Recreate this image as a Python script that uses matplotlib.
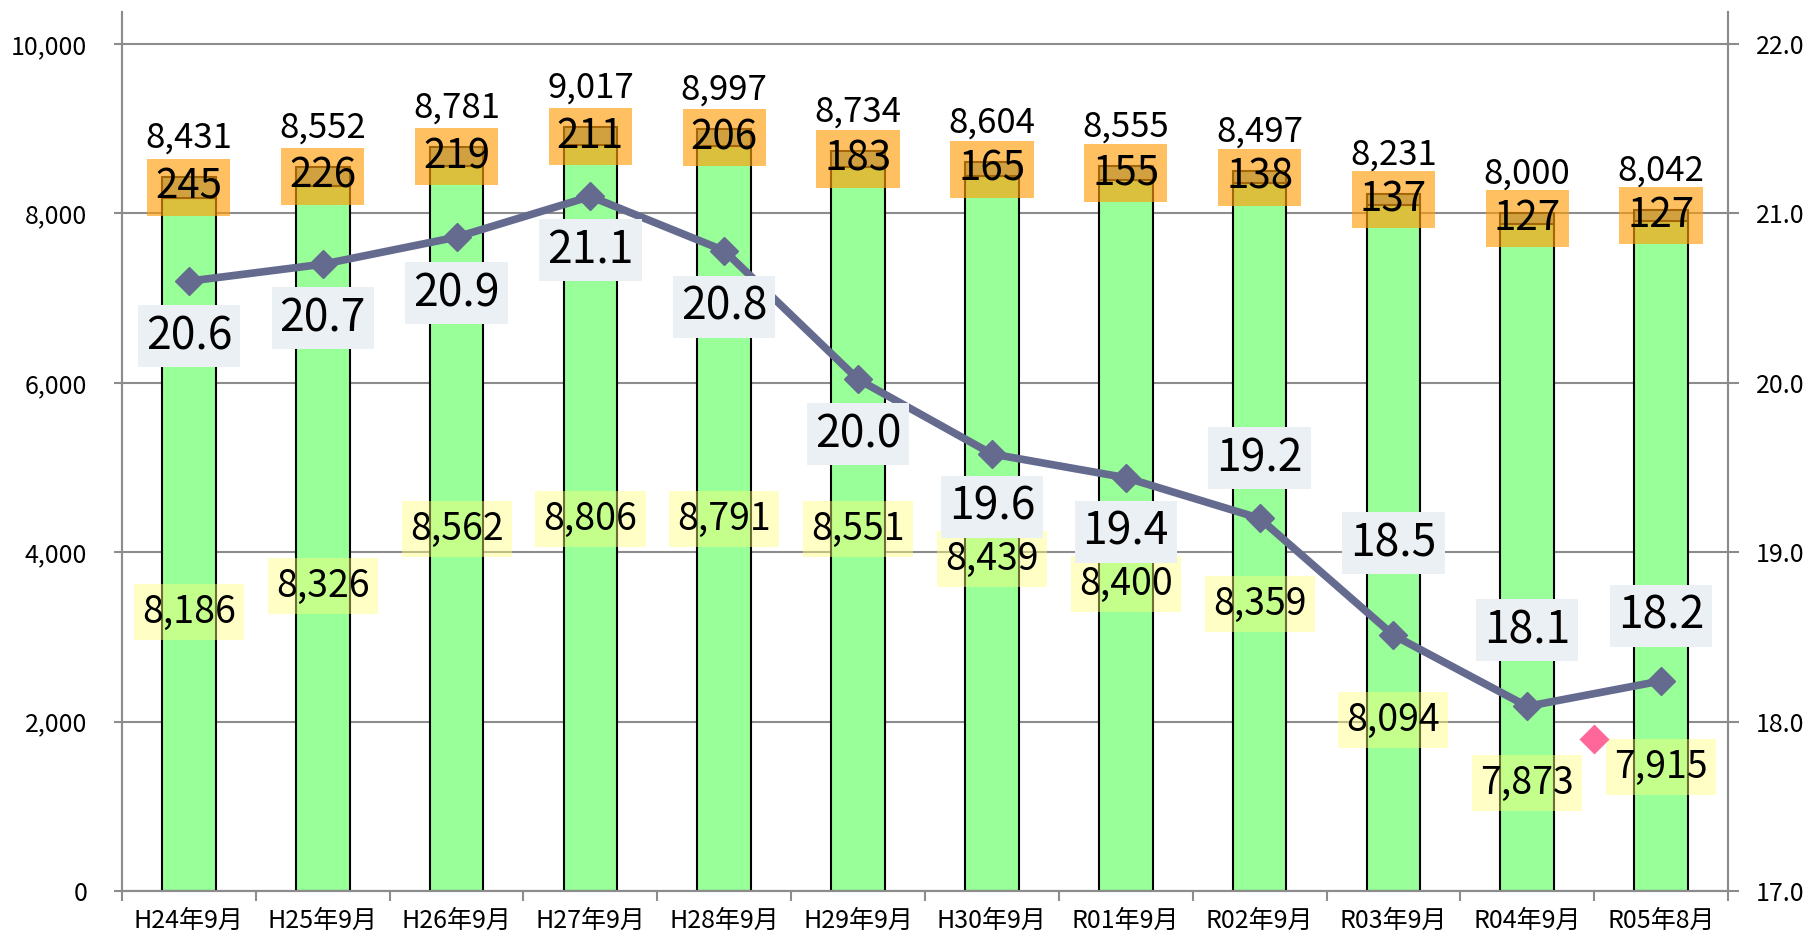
import matplotlib
matplotlib.use('Agg')
import matplotlib.pyplot as plt
from matplotlib.ticker import FixedLocator, FuncFormatter

plt.rcParams['font.family'] = ['Noto Sans CJK JP', 'DejaVu Sans']

# data
months = ['H24年9月', 'H25年9月', 'H26年9月', 'H27年9月', 'H28年9月', 'H29年9月',
          'H30年9月', 'R01年9月', 'R02年9月', 'R03年9月', 'R04年9月', 'R05年8月']
base = [8186, 8326, 8562, 8806, 8791, 8551, 8439, 8400, 8359, 8094, 7873, 7915]
extra = [245, 226, 219, 211, 206, 183, 165, 155, 138, 137, 127, 127]
ratio = [20.60, 20.70, 20.86, 21.10, 20.78, 20.02, 19.58, 19.44, 19.20, 18.51, 18.09, 18.24]
stray_x = [10.5]
stray_y = [17.9]

# label placement (hand-placed in the original)
base_label_y = [3294, 3601, 4274, 4392, 4392, 4274, 3920, 3625, 3388, 2019, 1275, 1464]
ratio_label_dy = [-55, -54, -56, -54, -56, -55, -53, -54, 60, 92, 76, 65]

totals = [b + e for b, e in zip(base, extra)]
x = list(range(len(months)))

W, H = 1815, 938
fig = plt.figure(figsize=(W / 100, H / 100), dpi=100)
ax = fig.add_axes([122 / W, (H - 891) / H, (1728 - 122) / W, (891 - 12) / H])
ax2 = ax.twinx()

gray = '#8c8c8c'
ymax = 10000 * 879 / 847
ax.set_ylim(0, ymax)
ax2.set_ylim(17, 17 + 5 * ymax / 10000)
ax.set_xlim(-0.5, len(months) - 0.5)

ax.set_axisbelow(True)
ax.yaxis.grid(True, color=gray, lw=1.5)
ax.set_yticks(range(0, 10001, 2000))
ax.yaxis.set_major_formatter(FuncFormatter(lambda v, p: f'{int(v):,}'))
ax2.set_yticks([17, 18, 19, 20, 21, 22])
ax2.yaxis.set_major_formatter(FuncFormatter(lambda v, p: f'{v:.1f}'))

ax.bar(x, base, width=0.4, color='#99ff99', edgecolor='black', lw=1.5, zorder=2)
ax.bar(x, extra, bottom=base, width=0.4, color='#7da8a0', edgecolor='black', lw=1.5, zorder=2)

ax.spines['top'].set_visible(False)
ax2.spines['top'].set_visible(False)
for a in (ax, ax2):
    for sp in ['left', 'right', 'bottom']:
        a.spines[sp].set_color(gray)
        a.spines[sp].set_linewidth(1.5)

ax.xaxis.set_major_locator(FixedLocator(x))
ax.set_xticklabels(months, fontsize=18)
ax.xaxis.set_minor_locator(FixedLocator([i - 0.5 for i in range(len(months) + 1)]))
ax.tick_params(axis='x', which='major', length=0, pad=12)
ax.tick_params(axis='x', which='minor', length=7, width=1.5, color=gray)
ax.tick_params(axis='y', length=6, width=1.5, color=gray, labelsize=18, pad=19)
ax2.tick_params(axis='y', length=8, width=1.5, color=gray, labelsize=18, pad=12)

# labels on bars
for i in x:
    ax.annotate(f'{totals[i]:,}', (i, totals[i]), xytext=(0, 39), textcoords='offset pixels',
                ha='center', va='center', fontsize=25, zorder=5)
    ax.text(i, base[i] + extra[i] / 2, f'{extra[i]}', ha='center', va='center', fontsize=29,
            zorder=5, bbox=dict(boxstyle='square,pad=0.2', fc=(1, 0.62, 0.05), alpha=0.65, ec='none'))
    ax.text(i, base_label_y[i], f'{base[i]:,}', ha='center', va='center', fontsize=27, zorder=5,
            bbox=dict(boxstyle='square,pad=0.22', fc=(1, 1, 0.48), alpha=0.43, ec='none'))

ax2.plot(x, ratio, color='#646b8f', lw=5.5, marker='D', ms=14, zorder=3)
ax2.plot(stray_x, stray_y, ls='none', marker='D', ms=15, color='#ff6699', mec='none', zorder=3)
for i in x:
    ax2.annotate(f'{ratio[i]:.1f}', (i, ratio[i]), xytext=(0, ratio_label_dy[i]),
                 textcoords='offset pixels', ha='center', va='center', fontsize=32, zorder=6,
                 bbox=dict(boxstyle='square,pad=0.18', fc='#ebf0f5', ec='none'))

fig.savefig('out.png', dpi=100)
